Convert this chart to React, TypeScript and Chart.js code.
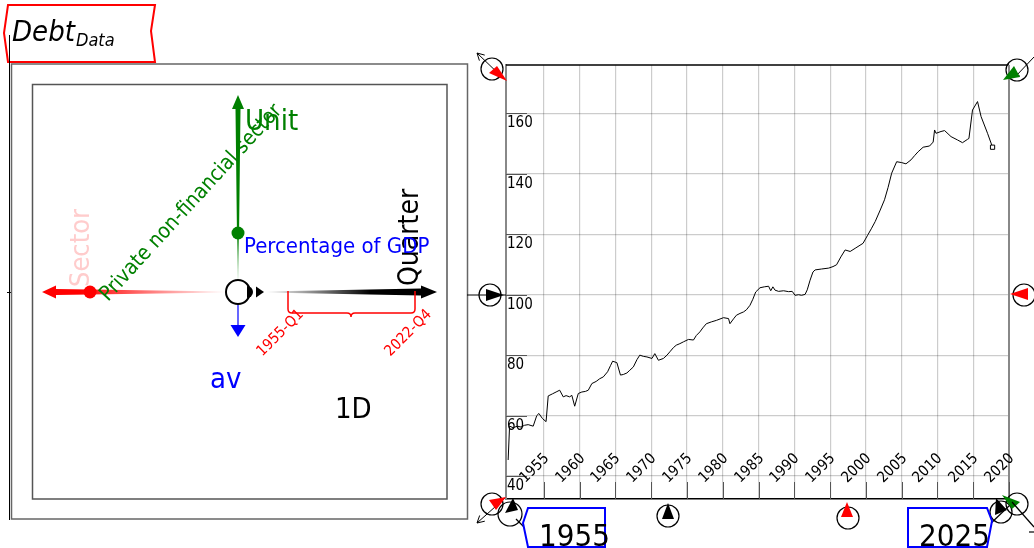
import React, { useEffect, useRef } from "react";
import { Chart, registerables } from "chart.js";

Chart.register(...registerables);

// ---- data (private non-financial sector debt, % of GDP, quarterly) ----
const years = [
  1955.0, 1955.2, 1955.7, 1956.3, 1956.8, 1957.3, 1957.8, 1958.5, 1959.0, 1959.3,
  1959.8, 1960.3, 1960.6, 1961.2, 1961.7, 1962.2, 1962.7, 1963.1, 1963.6, 1963.9,
  1964.3, 1964.8, 1965.3, 1965.8, 1966.2, 1966.7, 1967.3, 1967.8, 1968.3, 1968.9,
  1969.3, 1969.6, 1970.2, 1970.7, 1971.1, 1971.6, 1972.0, 1972.5, 1973.0, 1973.4,
  1973.9, 1974.4, 1975.1, 1975.5, 1976.0, 1976.7, 1977.2, 1977.6, 1978.1, 1978.5,
  1979.0, 1979.5, 1980.2, 1980.9, 1981.3, 1981.8, 1982.2, 1982.7, 1983.4, 1984.1,
  1985.1, 1985.8, 1986.0, 1986.5, 1986.9, 1987.4, 1987.9, 1988.3, 1988.8, 1989.2,
  1989.6, 1990.2, 1990.8, 1991.4, 1991.7, 1992.0, 1992.3, 1992.8, 1993.5, 1994.2,
  1994.7, 1995.1, 1995.6, 1996.0, 1996.5, 1996.8, 1997.2, 1997.6, 1997.9, 1998.8,
  1999.8, 2000.4, 2000.9, 2001.5, 2002.1, 2002.8, 2003.6, 2004.6, 2005.2, 2005.8,
  2006.3, 2007.0, 2007.6, 2008.1, 2008.6, 2009.3, 2010.0, 2010.6, 2011.3, 2011.8,
  2012.3, 2013.0, 2013.9, 2014.4, 2014.6, 2014.8, 2015.5, 2016.0, 2016.9, 2017.8,
  2018.5, 2019.2, 2019.4, 2019.9, 2020.6, 2021.1, 2022.0, 2022.7,
];
const debtPct = [
  45.3, 56.5, 56.0, 56.5, 56.2, 56.8, 57.0, 56.5, 60.0, 60.7,
  59.0, 58.0, 66.5, 67.2, 67.8, 68.4, 66.2, 66.6, 66.2, 66.7,
  63.1, 67.3, 67.8, 68.0, 68.4, 70.6, 71.3, 72.2, 72.8, 74.5,
  76.5, 78.0, 77.5, 73.4, 73.6, 74.1, 75.0, 76.1, 78.5, 80.0,
  79.6, 79.4, 78.9, 80.5, 78.3, 78.9, 80.0, 81.1, 82.5, 83.3,
  83.8, 84.4, 85.2, 85.0, 86.5, 87.7, 89.0, 90.4, 91.0, 91.5,
  92.4, 92.1, 90.4, 92.0, 93.2, 93.8, 94.3, 95.0, 96.5, 98.5,
  100.9, 102.3, 102.6, 102.8, 101.3, 102.6, 101.5, 101.1, 101.3, 101.0,
  101.1, 99.8, 100.0, 99.8, 100.1, 101.6, 104.8, 107.5, 108.2, 108.5,
  108.8, 109.3, 109.9, 112.5, 114.8, 114.3, 115.5, 117.0, 119.5, 122.0,
  124.2, 128.0, 131.4, 135.5, 140.2, 144.0, 143.7, 143.3, 144.6, 146.0,
  147.3, 148.8, 149.2, 150.5, 154.5, 153.4, 154.0, 154.3, 152.3, 151.2,
  150.3, 151.4, 151.7, 161.1, 163.9, 158.9, 153.4, 148.8,
];
const gridYears = [1960, 1965, 1970, 1975, 1980, 1985, 1990, 1995, 2000, 2005, 2010, 2015, 2020, 2025];
const yearLabels = ["1955", "1960", "1965", "1970", "1975", "1980", "1985", "1990", "1995", "2000", "2005", "2010", "2015", "2020"];
const yTicks = [40, 60, 80, 100, 120, 140, 160];
const X_MIN = 1954.7;
const X_MAX = 2025;
const Y_MIN = 32.4;
const Y_MAX = 176;
const rangeStart = "1955";
const rangeEnd = "2025";
const firstQuarter = "1955-Q1";
const lastQuarter = "2022-Q4";

const FONT = '"DejaVu Sans Condensed", "DejaVu Sans", sans-serif';
const TICK_FONT = '"DejaVu Sans Condensed", "DejaVu Sans", sans-serif';

type Ctx = CanvasRenderingContext2D;

function seg(ctx: Ctx, x0: number, y0: number, x1: number, y1: number) {
  ctx.beginPath();
  ctx.moveTo(x0, y0);
  ctx.lineTo(x1, y1);
  ctx.stroke();
}
function poly(ctx: Ctx, pts: number[][], fill?: string | CanvasGradient, stroke?: string, lw = 1) {
  ctx.beginPath();
  ctx.moveTo(pts[0][0], pts[0][1]);
  for (let i = 1; i < pts.length; i++) ctx.lineTo(pts[i][0], pts[i][1]);
  ctx.closePath();
  if (fill) {
    ctx.fillStyle = fill;
    ctx.fill();
  }
  if (stroke) {
    ctx.strokeStyle = stroke;
    ctx.lineWidth = lw;
    ctx.stroke();
  }
}
function ring(ctx: Ctx, x: number, y: number, r: number, lw = 1.2, color = "#000") {
  ctx.beginPath();
  ctx.arc(x, y, r, 0, Math.PI * 2);
  ctx.strokeStyle = color;
  ctx.lineWidth = lw;
  ctx.stroke();
}
function dot(ctx: Ctx, x: number, y: number, r: number, color: string) {
  ctx.beginPath();
  ctx.arc(x, y, r, 0, Math.PI * 2);
  ctx.fillStyle = color;
  ctx.fill();
}
function openArrow(ctx: Ctx, x0: number, y0: number, x1: number, y1: number, h = 8) {
  const a = Math.atan2(y1 - y0, x1 - x0);
  ctx.strokeStyle = "#000";
  ctx.lineWidth = 1;
  ctx.beginPath();
  ctx.moveTo(x0, y0);
  ctx.lineTo(x1, y1);
  ctx.moveTo(x1 - h * Math.cos(a - 0.5), y1 - h * Math.sin(a - 0.5));
  ctx.lineTo(x1, y1);
  ctx.lineTo(x1 - h * Math.cos(a + 0.5), y1 - h * Math.sin(a + 0.5));
  ctx.stroke();
}
function taper(
  ctx: Ctx, x0: number, y0: number, x1: number, y1: number,
  w0: number, w1: number, head: number, headW: number, fill: string | CanvasGradient
) {
  const len = Math.hypot(x1 - x0, y1 - y0);
  const dx = (x1 - x0) / len, dy = (y1 - y0) / len;
  const nx = -dy, ny = dx;
  const bx = x1 - dx * head, by = y1 - dy * head;
  poly(ctx, [
    [x0 + nx * w0 / 2, y0 + ny * w0 / 2],
    [bx + nx * w1 / 2, by + ny * w1 / 2],
    [bx + nx * headW / 2, by + ny * headW / 2],
    [x1, y1],
    [bx - nx * headW / 2, by - ny * headW / 2],
    [bx - nx * w1 / 2, by - ny * w1 / 2],
    [x0 - nx * w0 / 2, y0 - ny * w0 / 2],
  ], fill);
}
function rotText(ctx: Ctx, text: string, x: number, y: number, ang: number, font: string, color: string, align: CanvasTextAlign = "left", base: CanvasTextBaseline = "alphabetic") {
  ctx.save();
  ctx.translate(x, y);
  ctx.rotate(ang);
  ctx.font = font;
  ctx.fillStyle = color;
  ctx.textAlign = align;
  ctx.textBaseline = base;
  ctx.fillText(text, 0, 0);
  ctx.restore();
}

function drawLeftPanel(ctx: Ctx) {
  // title tag
  poly(ctx, [[8, 5], [155, 5], [151, 31], [155, 62], [8, 62], [4, 33]], "#fff", "#f00", 2);
  ctx.fillStyle = "#000";
  ctx.textAlign = "left";
  ctx.textBaseline = "alphabetic";
  ctx.font = `italic 29px ${FONT}`;
  ctx.fillText("Debt", 12, 41);
  const w = ctx.measureText("Debt").width;
  ctx.font = `italic 18px ${FONT}`;
  ctx.fillText("Data", 12 + w + 1, 46);

  // frame lines
  ctx.strokeStyle = "#000";
  ctx.lineWidth = 1;
  seg(ctx, 9.5, 35, 9.5, 520);
  seg(ctx, 7, 292.5, 12, 292.5);
  ctx.strokeStyle = "#666";
  ctx.lineWidth = 1.5;
  ctx.strokeRect(11.5, 64, 456, 455);
  ctx.strokeStyle = "#555";
  ctx.strokeRect(32.5, 84.5, 414.5, 414.5);

  const cx = 238, cy = 292;

  // red arrow (left)
  const gr = ctx.createLinearGradient(226, 0, 80, 0);
  gr.addColorStop(0, "rgba(255,0,0,0)");
  gr.addColorStop(1, "rgba(255,0,0,1)");
  taper(ctx, 226, cy, 42, cy, 1, 6, 14, 13, gr);
  dot(ctx, 90, cy, 6.5, "#f00");

  // black arrow (right)
  const gb = ctx.createLinearGradient(266, 0, 370, 0);
  gb.addColorStop(0, "rgba(0,0,0,0)");
  gb.addColorStop(1, "rgba(0,0,0,1)");
  taper(ctx, 266, cy, 437, cy, 1, 7, 16, 13, gb);

  // green arrow (up)
  const gg = ctx.createLinearGradient(0, 280, 0, 225);
  gg.addColorStop(0, "rgba(0,128,0,0.08)");
  gg.addColorStop(1, "rgba(0,128,0,1)");
  taper(ctx, cx, 280, cx, 95, 1, 5, 14, 12, gg);
  dot(ctx, cx, 233, 6.5, "#008000");

  // blue arrow (down)
  ctx.strokeStyle = "#00f";
  ctx.lineWidth = 1.2;
  seg(ctx, cx, 304, cx, 326);
  poly(ctx, [[230.5, 325], [245.5, 325], [238, 337]], "#00f");

  // centre glyph
  ctx.fillStyle = "#fff";
  ctx.beginPath();
  ctx.arc(cx, cy, 12, 0, Math.PI * 2);
  ctx.fill();
  ring(ctx, cx, cy, 12, 2);
  ctx.beginPath();
  ctx.arc(247, cy, 6, -Math.PI / 2, Math.PI / 2);
  ctx.closePath();
  ctx.fillStyle = "#000";
  ctx.fill();
  poly(ctx, [[256, 286.5], [256, 297.5], [264, 292]], "#000");

  // red brace
  ctx.strokeStyle = "#f00";
  ctx.lineWidth = 1.5;
  ctx.beginPath();
  ctx.moveTo(288, 291);
  ctx.lineTo(288, 309);
  ctx.quadraticCurveTo(288, 313, 292, 313);
  ctx.lineTo(347, 313);
  ctx.quadraticCurveTo(351, 313, 351, 317);
  ctx.quadraticCurveTo(351, 313, 355, 313);
  ctx.lineTo(411, 313);
  ctx.quadraticCurveTo(415, 313, 415, 309);
  ctx.lineTo(415, 291);
  ctx.stroke();
  rotText(ctx, firstQuarter, 296, 307, -Math.PI / 4, `15px ${FONT}`, "#f00", "right", "top");
  rotText(ctx, lastQuarter, 424, 307, -Math.PI / 4, `15px ${FONT}`, "#f00", "right", "top");

  // texts
  rotText(ctx, "Sector", 89, 287, -Math.PI / 2, `27px ${FONT}`, "#ffcccc");
  rotText(ctx, "Quarter", 418, 286, -Math.PI / 2, `28px ${FONT}`, "#000");
  rotText(ctx, "Private non-financial sector", 108, 302, -0.83, `21px ${FONT}`, "#008000");
  ctx.textAlign = "left";
  ctx.textBaseline = "alphabetic";
  ctx.font = `29px ${FONT}`;
  ctx.fillStyle = "#008000";
  ctx.fillText("Unit", 245, 130);
  ctx.font = `22px ${FONT}`;
  ctx.fillStyle = "#00f";
  ctx.fillText("Percentage of GDP", 244, 253);
  ctx.font = `29px ${FONT}`;
  ctx.fillText("av", 210, 388);
  ctx.fillStyle = "#000";
  ctx.fillText("1D", 335, 418);
}

function drawRightDecor(ctx: Ctx, left: number, midY: number) {
  // top-left corner
  ring(ctx, 492, 69, 11);
  openArrow(ctx, 503, 78, 477, 53);
  poly(ctx, [[489, 73], [497, 66], [507, 81]], "#f00");
  // top-right corner
  ring(ctx, 1017, 70, 11);
  ctx.strokeStyle = "#000";
  ctx.lineWidth = 1;
  seg(ctx, 1016, 76, 1034, 57);
  seg(ctx, 1012, 76, 1020, 76);
  poly(ctx, [[1003, 80], [1014, 66], [1020, 77]], "#008000");
  // left middle
  ctx.strokeStyle = "#000";
  ctx.lineWidth = 1;
  seg(ctx, 467, midY, left, midY);
  ring(ctx, 490, midY, 11);
  poly(ctx, [[486, midY - 6], [486, midY + 6], [504, midY]], "#000");
  // right middle
  ring(ctx, 1024, midY, 11);
  poly(ctx, [[1010, midY - 1], [1028, midY - 7], [1028, midY + 5]], "#f00");
  // bottom markers
  ring(ctx, 668, 516, 11);
  poly(ctx, [[668, 503], [662, 519], [674, 519]], "#000");
  ring(ctx, 848, 518, 11);
  poly(ctx, [[847, 502], [841, 517], [853, 517]], "#f00");
  // bottom-left corner
  ring(ctx, 492, 504, 11);
  openArrow(ctx, 505, 498, 477, 523);
  poly(ctx, [[489, 500], [506, 497], [496, 510]], "#f00");
  ring(ctx, 510, 514, 12);
  poly(ctx, [[513, 498], [505, 513], [518, 510]], "#000");
  ctx.strokeStyle = "#000";
  seg(ctx, 516, 519, 528, 531);
  // bottom-right corner
  ring(ctx, 1001, 512, 11);
  poly(ctx, [[996, 498], [995, 515], [1007, 510]], "#000");
  seg(ctx, 987, 527, 1010, 505);
  ring(ctx, 1017, 504, 11);
  poly(ctx, [[1002, 495], [1020, 502], [1012, 509]], "#008000");
  ctx.strokeStyle = "#000";
  seg(ctx, 1012, 502, 1034, 527);
  seg(ctx, 1029, 532, 1034, 532);

  // range tags
  poly(ctx, [[528, 508], [605, 508], [605, 547], [528, 547], [523, 523]], "#fff", "#00f", 2);
  poly(ctx, [[908, 508], [987, 508], [992, 521], [987, 547], [908, 547]], "#fff", "#00f", 2);
  ctx.fillStyle = "#000";
  ctx.font = `31px ${FONT}`;
  ctx.textAlign = "left";
  ctx.textBaseline = "alphabetic";
  ctx.fillText(rangeStart, 539, 546);
  ctx.fillText(rangeEnd, 919, 546);
}

const decorPlugin = {
  id: "decor",
  afterDraw(chart: any) {
    const ctx: Ctx = chart.ctx;
    const { left, right, top, bottom } = chart.chartArea;
    const xs = chart.scales.x;
    const ys = chart.scales.y;
    ctx.save();
    // top & right frame
    ctx.strokeStyle = "#000";
    ctx.lineWidth = 1.5;
    seg(ctx, left, top, right, top);
    ctx.strokeStyle = "#888";
    ctx.lineWidth = 2;
    seg(ctx, right, top, right, bottom);

    // y tick marks and labels (inside the plot)
    ctx.font = `15px ${TICK_FONT}`;
    yTicks.forEach((v) => {
      const py = Math.round(ys.getPixelForValue(v)) + 0.5;
      ctx.strokeStyle = "#555";
      ctx.lineWidth = 1;
      seg(ctx, left, py, left + 21, py);
      ctx.fillStyle = "#000";
      ctx.textAlign = "left";
      ctx.textBaseline = "top";
      ctx.fillText(String(v), left + 1, py + 2);
    });
    // x tick marks and labels (inside the plot)
    gridYears.forEach((v, i) => {
      const px = Math.round(xs.getPixelForValue(v)) + 0.5;
      ctx.strokeStyle = "#555";
      ctx.lineWidth = 1;
      seg(ctx, px, bottom - 17, px, bottom);
      if (yearLabels[i]) rotText(ctx, yearLabels[i], px - 3, bottom - 48, -Math.PI / 4, `15px ${TICK_FONT}`, "#000", "right", "top");
    });

    drawLeftPanel(ctx);
    drawRightDecor(ctx, left, Math.round(ys.getPixelForValue(100)));
    ctx.restore();
  },
};

export default function App() {
  const ref = useRef<HTMLCanvasElement | null>(null);
  useEffect(() => {
    document.body.style.margin = "0";
    const canvas = ref.current!;
    const last = years.length - 1;
    const chart = new Chart(canvas, {
      type: "line",
      data: {
        datasets: [
          {
            data: years.map((x, i) => ({ x, y: debtPct[i] })),
            borderColor: "#000",
            borderWidth: 1,
            backgroundColor: "#fff",
            pointBorderColor: "#000",
            pointBorderWidth: 1,
            pointStyle: "rect",
            pointRadius: (c: any) => (c.dataIndex === last ? 3 : 0),
            tension: 0,
            fill: false,
          },
        ],
      },
      options: {
        responsive: false,
        animation: false,
        events: [],
        layout: { padding: { left: 506, top: 65, right: 25, bottom: 49 } },
        plugins: { legend: { display: false }, tooltip: { enabled: false }, title: { display: false } },
        scales: {
          x: {
            type: "linear",
            min: X_MIN,
            max: X_MAX,
            afterBuildTicks: (s: any) => {
              s.ticks = gridYears.map((value) => ({ value }));
            },
            ticks: { display: false },
            grid: { color: "rgba(0,0,0,0.2)", drawTicks: false, lineWidth: 1.2 },
            border: { display: true, color: "#000", width: 1.5 },
          },
          y: {
            type: "linear",
            min: Y_MIN,
            max: Y_MAX,
            afterBuildTicks: (s: any) => {
              s.ticks = yTicks.map((value) => ({ value }));
            },
            ticks: { display: false },
            grid: { color: "rgba(0,0,0,0.2)", drawTicks: false, lineWidth: 1.2 },
            border: { display: true, color: "#888", width: 2 },
          },
        },
      },
      plugins: [decorPlugin],
    } as any);
    return () => chart.destroy();
  }, []);
  return (
    <canvas
      ref={ref}
      width={1034}
      height={548}
      style={{ position: "absolute", left: 0, top: 0, width: 1034, height: 548, display: "block" }}
    />
  );
}
